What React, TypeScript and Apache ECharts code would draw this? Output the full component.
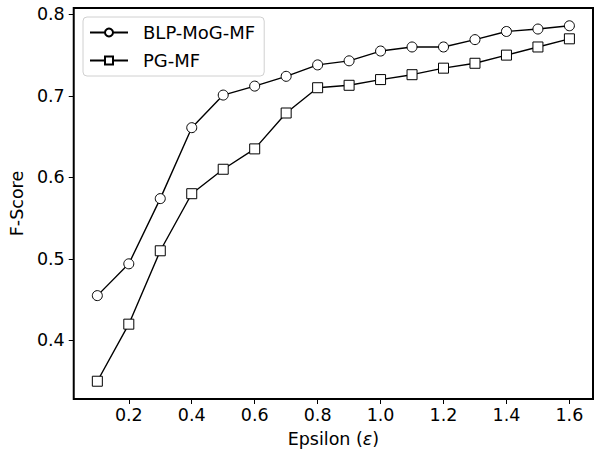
import React, { useEffect, useRef } from "react";
import * as echarts from "echarts";

const epsilons = [0.1, 0.2, 0.3, 0.4, 0.5, 0.6, 0.7, 0.8, 0.9, 1.0, 1.1, 1.2, 1.3, 1.4, 1.5, 1.6];
const blpMogMf = [0.455, 0.494, 0.574, 0.661, 0.701, 0.712, 0.724, 0.738, 0.743, 0.755, 0.760, 0.760, 0.769, 0.779, 0.782, 0.786];
const pgMf = [0.35, 0.42, 0.51, 0.58, 0.61, 0.635, 0.679, 0.710, 0.713, 0.720, 0.726, 0.734, 0.740, 0.750, 0.760, 0.770];
const xTicks = [0.2, 0.4, 0.6, 0.8, 1.0, 1.2, 1.4, 1.6];
const yTicks = [0.4, 0.5, 0.6, 0.7, 0.8];

const FONT = "DejaVu Sans";
const FS = 17.5;

export default function App() {
  const ref = useRef<HTMLDivElement>(null);
  useEffect(() => {
    if (!ref.current) return;
    const chart = echarts.init(ref.current, null, { renderer: "svg" });
    const xmin = 0.1 - 0.075;
    const xmax = 1.6 + 0.075;
    const allY = [...blpMogMf, ...pgMf];
    const ylo = Math.min(...allY);
    const yhi = Math.max(...allY);
    const ypad = (yhi - ylo) * 0.05;
    chart.setOption({
      animation: false,
      grid: {
        left: 73,
        right: 4,
        top: 8,
        bottom: 51,
        show: true,
        borderColor: "#000",
        borderWidth: 2,
        backgroundColor: "transparent",
      },
      legend: {
        left: 83,
        top: 17,
        orient: "vertical",
        itemWidth: 38,
        itemHeight: 10,
        itemGap: 9,
        padding: [6, 9, 6, 6],
        borderColor: "#d0d0d0",
        borderWidth: 1,
        borderRadius: 4,
        backgroundColor: "rgba(255,255,255,0.8)",
        textStyle: { fontFamily: FONT, fontSize: 18, color: "#000", lineHeight: 19, padding: [0, 0, 0, 10] },
        data: ["BLP-MoG-MF", "PG-MF"],
      },
      xAxis: {
        type: "value",
        min: xmin,
        max: xmax,
        name: "Epsilon ({i|ε})",
        nameLocation: "middle",
        nameGap: 31,
        nameTextStyle: {
          fontFamily: FONT,
          fontSize: FS,
          color: "#000",
          rich: { i: { fontFamily: FONT, fontSize: FS, fontStyle: "italic", color: "#000" } },
        },
        axisLine: { show: false },
        splitLine: { show: false },
        axisTick: { show: true, inside: false, length: 5, customValues: xTicks, lineStyle: { color: "#000", width: 1 } },
        axisLabel: {
          customValues: xTicks,
          fontFamily: FONT,
          fontSize: FS,
          color: "#000",
          margin: 7,
          formatter: (v: number) => v.toFixed(1),
        },
      },
      yAxis: {
        type: "value",
        min: ylo - ypad,
        max: yhi + ypad,
        name: "F-Score",
        nameLocation: "middle",
        nameGap: 41,
        nameTextStyle: { fontFamily: FONT, fontSize: FS, color: "#000" },
        axisLine: { show: false },
        splitLine: { show: false },
        axisTick: { show: true, inside: false, length: 5, customValues: yTicks, lineStyle: { color: "#000", width: 1 } },
        axisLabel: {
          customValues: yTicks,
          fontFamily: FONT,
          fontSize: FS,
          color: "#000",
          margin: 9,
          formatter: (v: number) => v.toFixed(1),
        },
      },
      series: [
        {
          name: "BLP-MoG-MF",
          type: "line",
          data: epsilons.map((e, i) => [e, blpMogMf[i]]),
          symbol: "circle",
          symbolSize: 10,
          lineStyle: { color: "#000", width: 1.4 },
          itemStyle: { color: "#fff", borderColor: "#000", borderWidth: 1 },
        },
        {
          name: "PG-MF",
          type: "line",
          data: epsilons.map((e, i) => [e, pgMf[i]]),
          symbol: "rect",
          symbolSize: 10,
          lineStyle: { color: "#000", width: 1.4 },
          itemStyle: { color: "#fff", borderColor: "#000", borderWidth: 1 },
        },
      ],
    });
    return () => chart.dispose();
  }, []);
  return <div ref={ref} style={{ width: 597, height: 453, position: "absolute", left: 0, top: 0 }} />;
}
